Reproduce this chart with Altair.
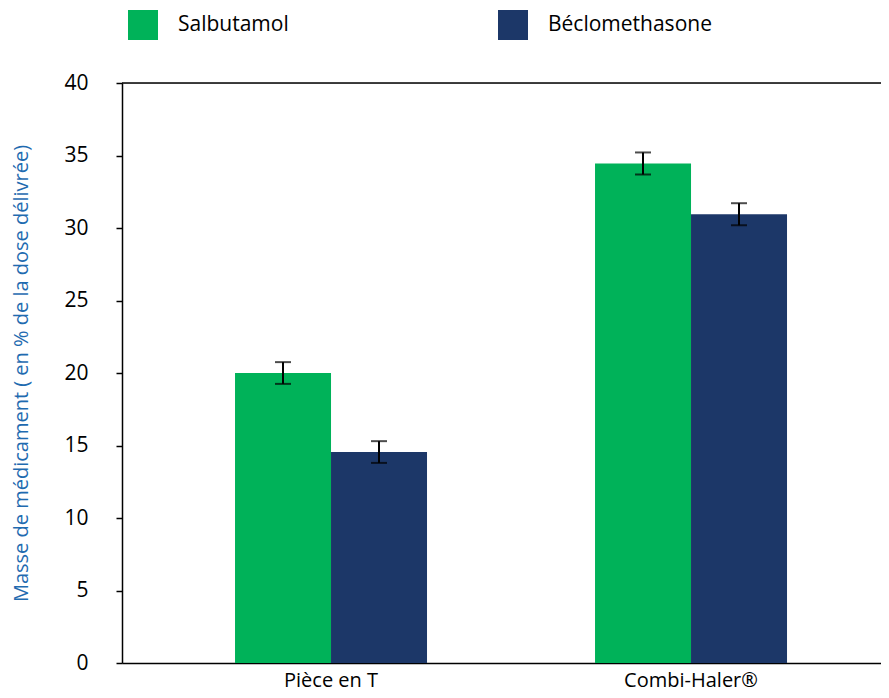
import altair as alt
import pandas as pd

categories = ["Pièce en T", "Combi-Haler®"]
drugs = ["Salbutamol", "Béclomethasone"]
salbutamol = [20.0, 34.45]
beclomethasone = [14.55, 30.95]
salbutamol_err = [0.75, 0.76]
beclomethasone_err = [0.75, 0.76]
colors = ["#00B259", "#1C3768"]

rows = []
for i, c in enumerate(categories):
    for d, vals, errs in [(drugs[0], salbutamol, salbutamol_err), (drugs[1], beclomethasone, beclomethasone_err)]:
        rows.append({"cat": c, "drug": d, "value": vals[i], "lo": vals[i] - errs[i], "hi": vals[i] + errs[i]})
df = pd.DataFrame(rows)

FONT = "Open Sans"

xenc = alt.X("cat:N", sort=categories, title=None,
             scale=alt.Scale(paddingInner=0.4667, paddingOuter=0.2875, align=0.546),
             axis=alt.Axis(labelAngle=0, ticks=False, labelFontSize=20, labelFont=FONT,
                           labelColor="#000", labelPadding=7, domainColor="#000", domainWidth=1.5))
xoff = alt.XOffset("drug:N", sort=drugs, scale=alt.Scale(paddingInner=0, paddingOuter=0))

base = alt.Chart(df)

bars = base.mark_bar(size=96).encode(
    x=xenc,
    xOffset=xoff,
    y=alt.Y("value:Q", scale=alt.Scale(domain=[0, 40], nice=False),
            title="Masse de médicament ( en % de la dose délivrée)",
            axis=alt.Axis(values=list(range(0, 41, 5)), grid=False, tickSize=6, tickColor="#000",
                          tickWidth=1.5, domainColor="#000", domainWidth=1.5,
                          labelFontSize=21, labelFont=FONT, labelColor="#000", labelPadding=28,
                          titleFontSize=20, titleFont=FONT, titleFontWeight="normal",
                          titleColor="#1F6BB0", titleX=-101, titleY=290, titleAngle=270,
                          titleAlign="center", titleBaseline="middle")),
    color=alt.Color("drug:N", sort=drugs, scale=alt.Scale(domain=drugs, range=colors),
                    legend=alt.Legend(title=None, orient="none", legendX=6, legendY=-73,
                                      direction="horizontal", symbolType="square", symbolSize=900,
                                      symbolStrokeWidth=0, symbolOpacity=1, labelFontSize=21,
                                      labelFont=FONT, labelColor="#000", labelOffset=20,
                                      columnPadding=209, labelLimit=300)),
)

err_rule = base.mark_rule(color="#000", strokeWidth=2).encode(
    x=alt.X("cat:N", sort=categories), xOffset=xoff, y="lo:Q", y2="hi:Q")
cap_hi = base.mark_tick(color="#000", size=16, thickness=2).encode(
    x=alt.X("cat:N", sort=categories), xOffset=xoff, y="hi:Q")
cap_lo = base.mark_tick(color="#000", size=16, thickness=2).encode(
    x=alt.X("cat:N", sort=categories), xOffset=xoff, y="lo:Q")

top_line = alt.Chart(pd.DataFrame({"y": [40]})).mark_rule(color="#000", strokeWidth=1.5).encode(y="y:Q")

chart = alt.layer(bars, err_rule, cap_hi, cap_lo, top_line).properties(
    width=759, height=580,
    autosize=alt.AutoSizeParams(type="none"),
    padding={"left": 114, "top": 75, "right": 0, "bottom": 33},
).configure_view(stroke=None).configure(background="white")

chart.save("out.html", embed_options={"renderer": "svg", "actions": False})
